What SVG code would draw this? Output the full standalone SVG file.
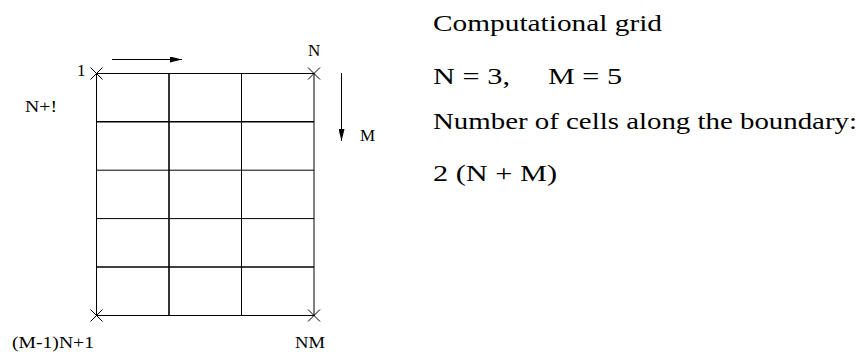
<svg xmlns="http://www.w3.org/2000/svg" width="861" height="354" viewBox="0 0 861 354">
<style>
.lbl{font-family:"Liberation Serif","Times New Roman",serif;font-size:17px;fill:#000}
.txt{font-family:"Liberation Serif","Times New Roman",serif;font-size:23px;fill:#000}
.ln{stroke:#000;stroke-width:1;fill:none}
.in{stroke:#000;stroke-width:1.6;fill:none}
.cross{stroke:#000;stroke-width:1;fill:none}
</style>
<defs>
<marker id="ah" viewBox="0 0 12 6" refX="12" refY="3" markerWidth="12" markerHeight="6" markerUnits="userSpaceOnUse" orient="auto">
<path d="M0,0 L12,3 L0,6 Z" fill="#000"/>
</marker>
</defs>
<rect width="861" height="354" fill="#fff"/>
<g id="grid">
<rect class="ln" x="96.5" y="73.5" width="217.5" height="242"/>
<line class="in" x1="169" y1="73.5" x2="169" y2="315.5"/>
<line class="ln" x1="241.5" y1="73.5" x2="241.5" y2="315.5"/>
<line class="in" x1="96.5" y1="121.8" x2="314" y2="121.8"/>
<line class="ln" x1="96.5" y1="170.2" x2="314" y2="170.2"/>
<line class="ln" x1="96.5" y1="218.6" x2="314" y2="218.6"/>
<line class="in" x1="96.5" y1="267" x2="314" y2="267"/>
</g>
<g id="corners">
<path class="cross" d="M90.5,67.5 l12,12 M102.5,67.5 l-12,12"/>
<path class="cross" d="M308,67.5 l12,12 M320,67.5 l-12,12"/>
<path class="cross" d="M90.5,309.5 l12,12 M102.5,309.5 l-12,12"/>
<path class="cross" d="M308,309.5 l12,12 M320,309.5 l-12,12"/>
</g>
<g id="connectors">
<line class="ln" x1="112" y1="59.5" x2="182" y2="59.5" marker-end="url(#ah)"/>
<line class="ln" x1="341.5" y1="73" x2="341.5" y2="141" marker-end="url(#ah)"/>
</g>
<g id="labels">
<text class="lbl" x="77" y="76">1</text>
<text class="lbl" x="308" y="56">N</text>
<text class="lbl" x="25" y="112" textLength="32" lengthAdjust="spacingAndGlyphs">N+!</text>
<text class="lbl" x="360" y="141">M</text>
<text class="lbl" x="12" y="348" textLength="82" lengthAdjust="spacingAndGlyphs">(M-1)N+1</text>
<text class="lbl" x="295" y="348" textLength="30" lengthAdjust="spacingAndGlyphs">NM</text>
</g>
<g id="description">
<text class="txt" x="433" y="31" textLength="229" lengthAdjust="spacingAndGlyphs">Computational grid</text>
<text class="txt" x="433" y="84" textLength="77" lengthAdjust="spacingAndGlyphs">N = 3,</text>
<text class="txt" x="548" y="84" textLength="74" lengthAdjust="spacingAndGlyphs">M = 5</text>
<text class="txt" x="433" y="129" textLength="424" lengthAdjust="spacingAndGlyphs">Number of cells along the boundary:</text>
<text class="txt" x="433" y="181" textLength="124" lengthAdjust="spacingAndGlyphs">2 (N + M)</text>
</g>
</svg>
